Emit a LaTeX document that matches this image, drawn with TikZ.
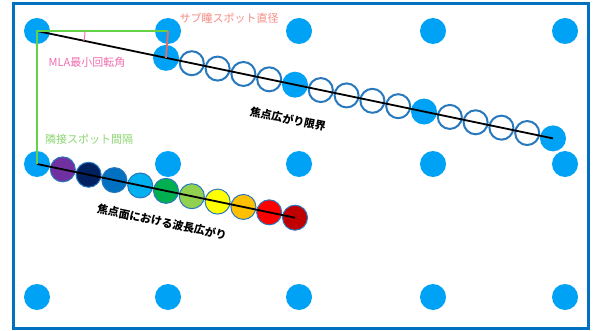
\documentclass[tikz,border=0pt]{standalone}
\usepackage{fontspec}
\newfontfamily\jp{Noto Sans CJK JP}
\usetikzlibrary{calc}
\definecolor{dotblue}{RGB}{0,162,245}
\definecolor{frameblue}{RGB}{0,112,192}
\definecolor{ringblue}{RGB}{40,120,190}
\definecolor{lgreen}{RGB}{100,210,70}
\definecolor{tgreen}{RGB}{140,215,115}
\definecolor{salmon}{RGB}{232,108,98}
\definecolor{tsalmon}{RGB}{245,140,130}
\definecolor{mlapink}{RGB}{240,110,175}
\definecolor{cPurple}{RGB}{112,48,160}
\definecolor{cNavy}{RGB}{0,32,96}
\definecolor{cBlue}{RGB}{0,112,192}
\definecolor{cLBlue}{RGB}{0,176,240}
\definecolor{cGreen}{RGB}{0,176,80}
\definecolor{cLGreen}{RGB}{146,208,80}
\definecolor{cYellow}{RGB}{255,255,0}
\definecolor{cOrange}{RGB}{255,192,0}
\definecolor{cRed}{RGB}{255,0,0}
\definecolor{cDRed}{RGB}{192,0,0}
\begin{document}
\begin{tikzpicture}[x=1pt,y=-1pt,
  dot/.style={circle,fill=dotblue,minimum size=26pt,inner sep=0},
  hollow/.style={circle,draw=ringblue,line width=2pt,fill=white,minimum size=24pt,inner sep=0},
  wave/.style={circle,draw=ringblue,line width=1pt,minimum size=25pt,inner sep=0},
  lbl/.style={font=\jp\fontsize{11}{12}\selectfont,inner sep=0},
  blbl/.style={font=\jp\bfseries\fontsize{11}{12}\selectfont,inner sep=0,rotate=-11.8},
  axisline/.style={line width=1.8pt,black},
  guide/.style={line width=2.2pt,lgreen}]
\useasboundingbox[fill=white] (0,0) rectangle (593,331);
\draw[frameblue,line width=3pt] (13,4) rectangle (588,328);
% grid
\foreach \i/\y in {1/31,2/164,3/297}
  \foreach \j/\x in {1/37,2/168,3/299,4/433,5/565}
    \node[dot] (g\i\j) at (\x,\y) {};
% focal spread chain
\foreach \k in {5,...,20}{
  \pgfmathtruncatemacro\m{mod(\k,5)}
  \ifnum\m=0
    \node[dot] (c\k) at ({37+25.8*\k},{31+5.37*\k}) {};
  \else
    \node[hollow] (c\k) at ({37+25.8*\k},{31+5.37*\k}) {};
  \fi
}
% wavelength chain
\foreach \k/\c in {1/cPurple,2/cNavy,3/cBlue,4/cLBlue,5/cGreen,6/cLGreen,7/cYellow,8/cOrange,9/cRed,10/cDRed}
  \node[wave,fill=\c] (w\k) at ({37+25.8*\k},{164+5.37*\k}) {};
% lines
\draw[axisline] (g11.center) -- (c20.center);
\draw[axisline] (g21.center) -- (w10.center);
\draw[guide] (g21.center) -- (g11.center) -- (g12.center);
\draw[salmon,line width=1.8pt] (g12.center) -- (c5.center);
\draw[mlapink,line width=1pt] ($(g11.center)+(48,0)$) arc[start angle=0,end angle=-11.8,radius=48pt];
% labels
\node[lbl,text=tsalmon] (l1) at (229,18) {サブ瞳スポット直径};
\node[lbl,text=mlapink] (l2) at (87,62) {MLA最小回転角};
\node[lbl,text=tgreen] (l3) at (89,139) {隣接スポット間隔};
\node[blbl] (l4) at (288,119) {焦点広がり限界};
\node[blbl] (l5) at (162,222) {焦点面における波長広がり};
\end{tikzpicture}
\end{document}
